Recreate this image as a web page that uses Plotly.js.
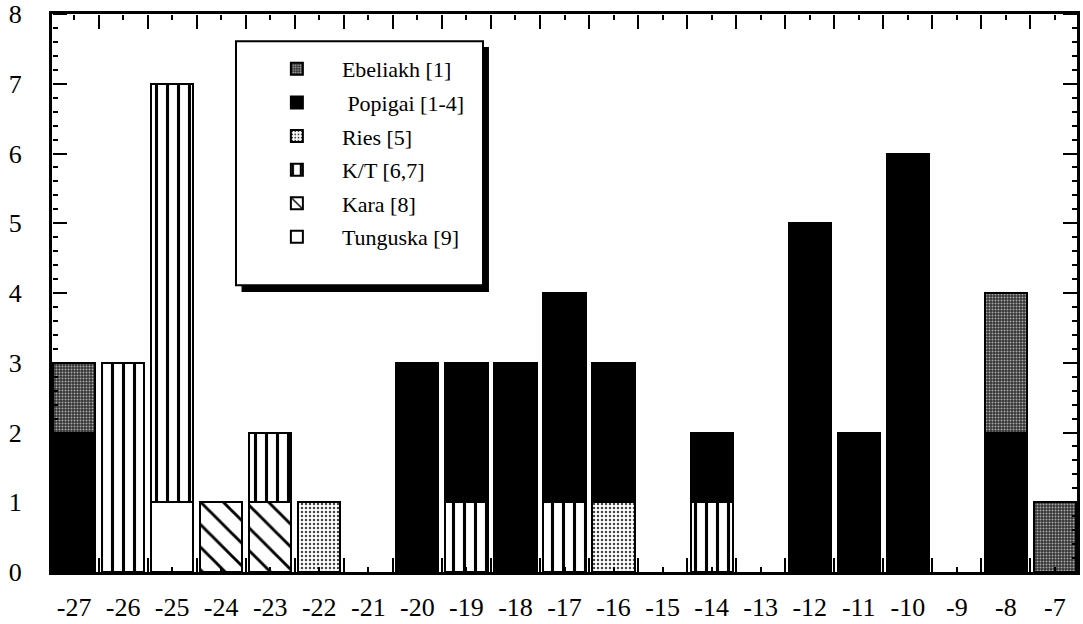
<!DOCTYPE html>
<html><head><meta charset="utf-8">
<script src="https://cdn.plot.ly/plotly-3.0.1.min.js"></script>
<style>body{margin:0;background:#fff}#chart{width:1083px;height:624px}</style>
</head><body><div id="chart"></div>
<script>
const xCats = [-27,-26,-25,-24,-23,-22,-21,-20,-19,-18,-17,-16,-15,-14,-13,-12,-11,-10,-9,-8,-7];
const tunguska = [0,0,1,0,0,0,0,0,0,0,0,0,0,0,0,0,0,0,0,0,0];
const kara     = [0,0,0,1,1,0,0,0,0,0,0,0,0,0,0,0,0,0,0,0,0];
const ries     = [0,0,0,0,0,1,0,0,0,0,0,1,0,0,0,0,0,0,0,0,0];
const kt       = [0,3,6,0,1,0,0,0,1,0,1,0,0,1,0,0,0,0,0,0,0];
const popigai  = [2,0,0,0,0,0,0,3,2,3,3,2,0,1,0,5,2,6,0,2,0];
const ebeliakh = [1,0,0,0,0,0,0,0,0,0,0,0,0,0,0,0,0,0,0,2,1];
const xTickText = xCats.map(String);
const yTickVals = [0,1,2,3,4,5,6,7,8];

const nz = a => a.map(v => v === 0 ? null : v);
const edges = xCats.map(v => v - 0.5).concat([xCats[xCats.length-1] + 0.5]);
const line = {color:'#000', width:2};
const W = 0.86;
function tr(name, y, rank, marker){
  return {type:'bar', name:name, x:xCats, y:nz(y), width:W, legendrank:rank, legendgroup:name,
    marker:Object.assign({line:line}, marker), hoverinfo:'x+y+name'};
}
const dummy = (xa, ya) => ({type:'scatter', mode:'markers', x:[], y:[], xaxis:xa, yaxis:ya, showlegend:false, hoverinfo:'skip'});
const data = [
  tr('Tunguska [9]', tunguska, 6, {color:'#fff'}),
  tr('Kara [8]', kara, 5, {color:'#fff', pattern:{shape:'\\', fgcolor:'#000', bgcolor:'#fff', size:16, solidity:0.18}}),
  tr('Ries [5]', ries, 3, {color:'#fff', pattern:{shape:'.', fgcolor:'#444', bgcolor:'#fff', size:4, solidity:0.3}}),
  tr('K/T [6,7]', kt, 4, {color:'#fff', pattern:{shape:'|', fgcolor:'#000', bgcolor:'#fff', size:11, solidity:0.28}}),
  tr(' Popigai [1-4]', popigai, 2, {color:'#000'}),
  tr('Ebeliakh [1]', ebeliakh, 1, {color:'#555', pattern:{shape:'.', fgcolor:'#aaa', bgcolor:'#333', size:3, solidity:0.35}}),
  dummy('x2','y2'), dummy('x3','y3')
];
const FAM = 'Liberation Serif';
const font = {family:FAM, size:26, color:'#000'};
const XR = [-27.45,-6.55], YR = [0,8];
const tk = {ticks:'outside', tickwidth:2, tickcolor:'#000', showticklabels:false, showline:false, showgrid:false, zeroline:false, autorange:false};
// tick axes placed on the opposite side so that their "outside" ticks point into the plot
const xTicks = (side, pos) => Object.assign({}, tk, {range:XR, overlaying:'x', side:side, anchor:'free', position:pos,
  tickmode:'array', tickvals:edges, ticklen:14,
  minor:{tickmode:'array', tickvals:xCats, ticks:'outside', ticklen:5, tickwidth:2, tickcolor:'#000', showgrid:false}});
const yTicks = (side, pos) => Object.assign({}, tk, {range:YR, overlaying:'y', side:side, anchor:'free', position:pos,
  tickmode:'array', tickvals:yTickVals, ticklen:14,
  minor:{tickmode:'linear', tick0:0, dtick:0.2, ticks:'outside', ticklen:5, tickwidth:2, tickcolor:'#000', showgrid:false}});
const layout = {
  width:1083, height:624,
  margin:{l:52, r:6, t:14, b:52},
  paper_bgcolor:'#fff', plot_bgcolor:'#fff',
  barmode:'stack', bargap:0,
  font:font, showlegend:true,
  xaxis:{range:XR, autorange:false, tickmode:'array', tickvals:xCats, ticktext:xTickText, ticks:'',
    showline:true, linecolor:'#000', linewidth:3, mirror:true, showgrid:false, zeroline:false,
    ticklabelstandoff:10, ticklabeloverflow:'allow', tickfont:font},
  yaxis:{range:YR, autorange:false, tickmode:'array', tickvals:yTickVals, ticks:'',
    showline:true, linecolor:'#000', linewidth:3, mirror:true, showgrid:false, zeroline:false,
    ticklabelstandoff:22, ticklabeloverflow:'allow', tickfont:font},
  xaxis2:xTicks('top', 0),
  yaxis2:yTicks('right', 0),
  xaxis3:xTicks('bottom', 1),
  yaxis3:yTicks('left', 1),
  legend:{x:0.195, y:0.939, xanchor:'left', yanchor:'top', bgcolor:'rgba(0,0,0,0)', borderwidth:0,
    font:{family:FAM, size:22, color:'#000'}, tracegroupgap:2, itemwidth:80, itemclick:false},
  shapes:[
    {type:'rect', xref:'paper', yref:'paper', x0:0.1849, x1:0.4263, y0:0.502, y1:0.941, fillcolor:'#000', line:{width:0}, layer:'above'},
    {type:'rect', xref:'paper', yref:'paper', x0:0.1795, x1:0.4205, y0:0.514, y1:0.951, fillcolor:'#fff', line:{color:'#000', width:2}, layer:'above'}
  ]
};
Plotly.newPlot('chart', data, layout, {displayModeBar:false});
</script></body></html>
